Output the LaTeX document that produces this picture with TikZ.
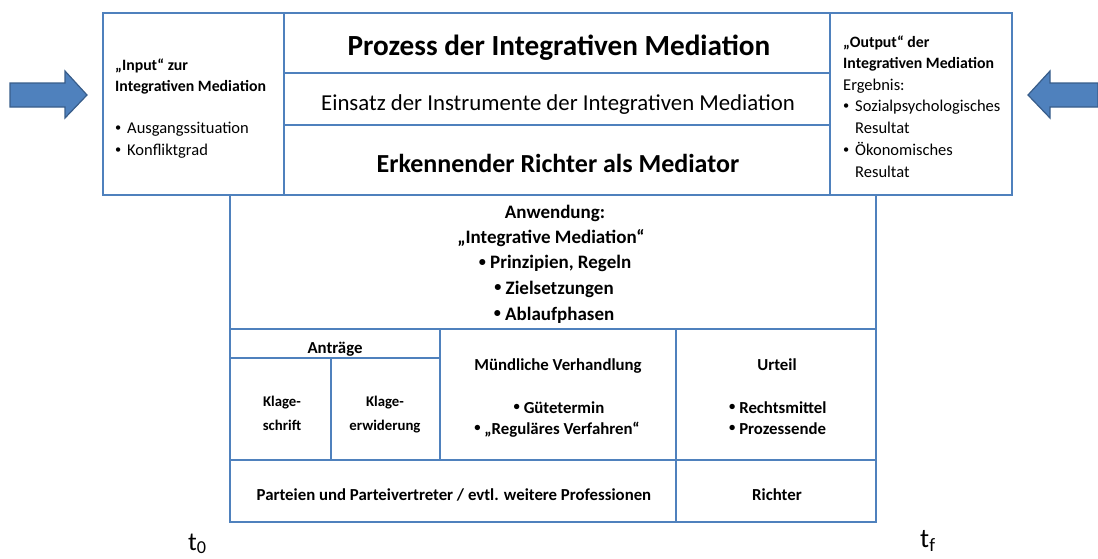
\documentclass[tikz,border=0pt]{standalone}
\usepackage{fontspec}
\usepackage{graphicx}
\setmainfont{Carlito}
\definecolor{boxblue}{HTML}{4F81BD}
\definecolor{arrowedge}{HTML}{385D8A}
\newcommand{\fsz}[1]{\fontsize{#1}{#1}\selectfont}
\newcommand{\sbul}{\raisebox{0.12em}{\scalebox{0.75}{•}}}
\newcommand{\bul}{\makebox[12pt][l]{\sbul}}
\newcommand{\nobul}{\makebox[12pt][l]{}}
\begin{document}
\begin{tikzpicture}[x=1pt,y=-1pt,
  grid/.style={draw=boxblue,line width=2.6pt},
  bigarrow/.style={fill=boxblue,draw=arrowedge,line width=1.2pt},
  txt/.style={inner sep=0pt,anchor=base},
  txtl/.style={inner sep=0pt,anchor=base west},
  hsmall/.style={font=\bfseries\fsz{15.8}},
  rsmall/.style={font=\fsz{16.5}},
  bsmall/.style={font=\bfseries\fsz{16.8}},
  ksmall/.style={font=\bfseries\fsz{14.8}},
  anw/.style={font=\bfseries\fsz{19}}]
\useasboundingbox (0,0) rectangle (1098,558);
% arrows
\draw[bigarrow] (10,83) -- (65,83) -- (65,71) -- (87,95) -- (65,118) -- (65,107) -- (10,107) -- cycle;
\draw[bigarrow] (1098,83) -- (1050,83) -- (1050,71) -- (1028,95) -- (1050,118) -- (1050,107) -- (1098,107) -- cycle;
% top box
\draw[grid] (103,13) rectangle (1012,195);
\draw[grid] (284,13) -- (284,195) (830,13) -- (830,195) (284,73) -- (830,73) (284,125) -- (830,125);
% lower box
\draw[grid] (230,195) rectangle (876,522);
\draw[grid] (230,329) -- (876,329) (230,460) -- (876,460) (440,329) -- (440,460) (676,329) -- (676,522)
  (230,358) -- (440,358) (331,358) -- (331,460);
% left cell
\node[txtl,hsmall] (in1) at (115,70) {„Input“ zur};
\node[txtl,hsmall] (in2) at (115,91) {Integrativen Mediation};
\node[txtl,rsmall] (in3) at (115,133) {\bul Ausgangssituation};
\node[txtl,rsmall] (in4) at (115,155) {\bul Konfliktgrad};
% right cell
\node[txtl,hsmall] (out1) at (843,47) {„Output“ der};
\node[txtl,hsmall] (out2) at (843,68) {Integrativen Mediation};
\node[txtl,rsmall] (out3) at (843,90) {Ergebnis:};
\node[txtl,rsmall] (out4) at (843,111) {\bul Sozialpsychologisches};
\node[txtl,rsmall] (out5) at (843,133) {\nobul Resultat};
\node[txtl,rsmall] (out6) at (843,155) {\bul Ökonomisches};
\node[txtl,rsmall] (out7) at (843,177) {\nobul Resultat};
% middle
\node[txt,font=\bfseries\fsz{29.2}] (proz) at (559,55) {Prozess der Integrativen Mediation};
\node[txt,font=\fsz{22.8}] (eins) at (558,110) {Einsatz der Instrumente der Integrativen Mediation};
\node[txt,font=\bfseries\fsz{26}] (erk) at (558,172) {Erkennender Richter als Mediator};
% Anwendung
\node[txt,anw] (anw1) at (555,218) {Anwendung:};
\node[txt,anw] (anw2) at (551,243) {„Integrative Mediation“};
\node[txt,anw] (anw3) at (555,268.5) {\sbul~Prinzipien, Regeln};
\node[txt,anw] (anw4) at (554,294) {\sbul~Zielsetzungen};
\node[txt,anw] (anw5) at (554,320) {\sbul~Ablaufphasen};
% row 2
\node[txt,bsmall] (antr) at (335,353) {Anträge};
\node[txt,ksmall] (kl1) at (282,406) {Klage-};
\node[txt,ksmall] (kl2) at (282,430) {schrift};
\node[txt,ksmall] (ke1) at (385,406) {Klage-};
\node[txt,ksmall] (ke2) at (385,430) {erwiderung};
\node[txt,bsmall] (mv) at (558,370) {Mündliche Verhandlung};
\node[txt,bsmall] (mv1) at (559,413) {\sbul~Gütetermin};
\node[txt,bsmall] (mv2) at (557,434) {\sbul~„Reguläres Verfahren“};
\node[txt,bsmall] (ur) at (777,370) {Urteil};
\node[txtl,bsmall] (ur1) at (729,413) {\sbul~Rechtsmittel};
\node[txtl,bsmall] (ur2) at (729,434) {\sbul~Prozessende};
% bottom row
\node[txt,bsmall] (part) at (454,500) {Parteien und Parteivertreter / evtl. weitere Professionen};
\node[txt,bsmall] (ri) at (777,500) {Richter};
% times
\node[txtl,font=\fsz{26}] (t0) at (188,550) {t\textsubscript{0}};
\node[txtl,font=\fsz{27}] (tf) at (920,547) {t\textsubscript{f}};
\end{tikzpicture}
\end{document}
